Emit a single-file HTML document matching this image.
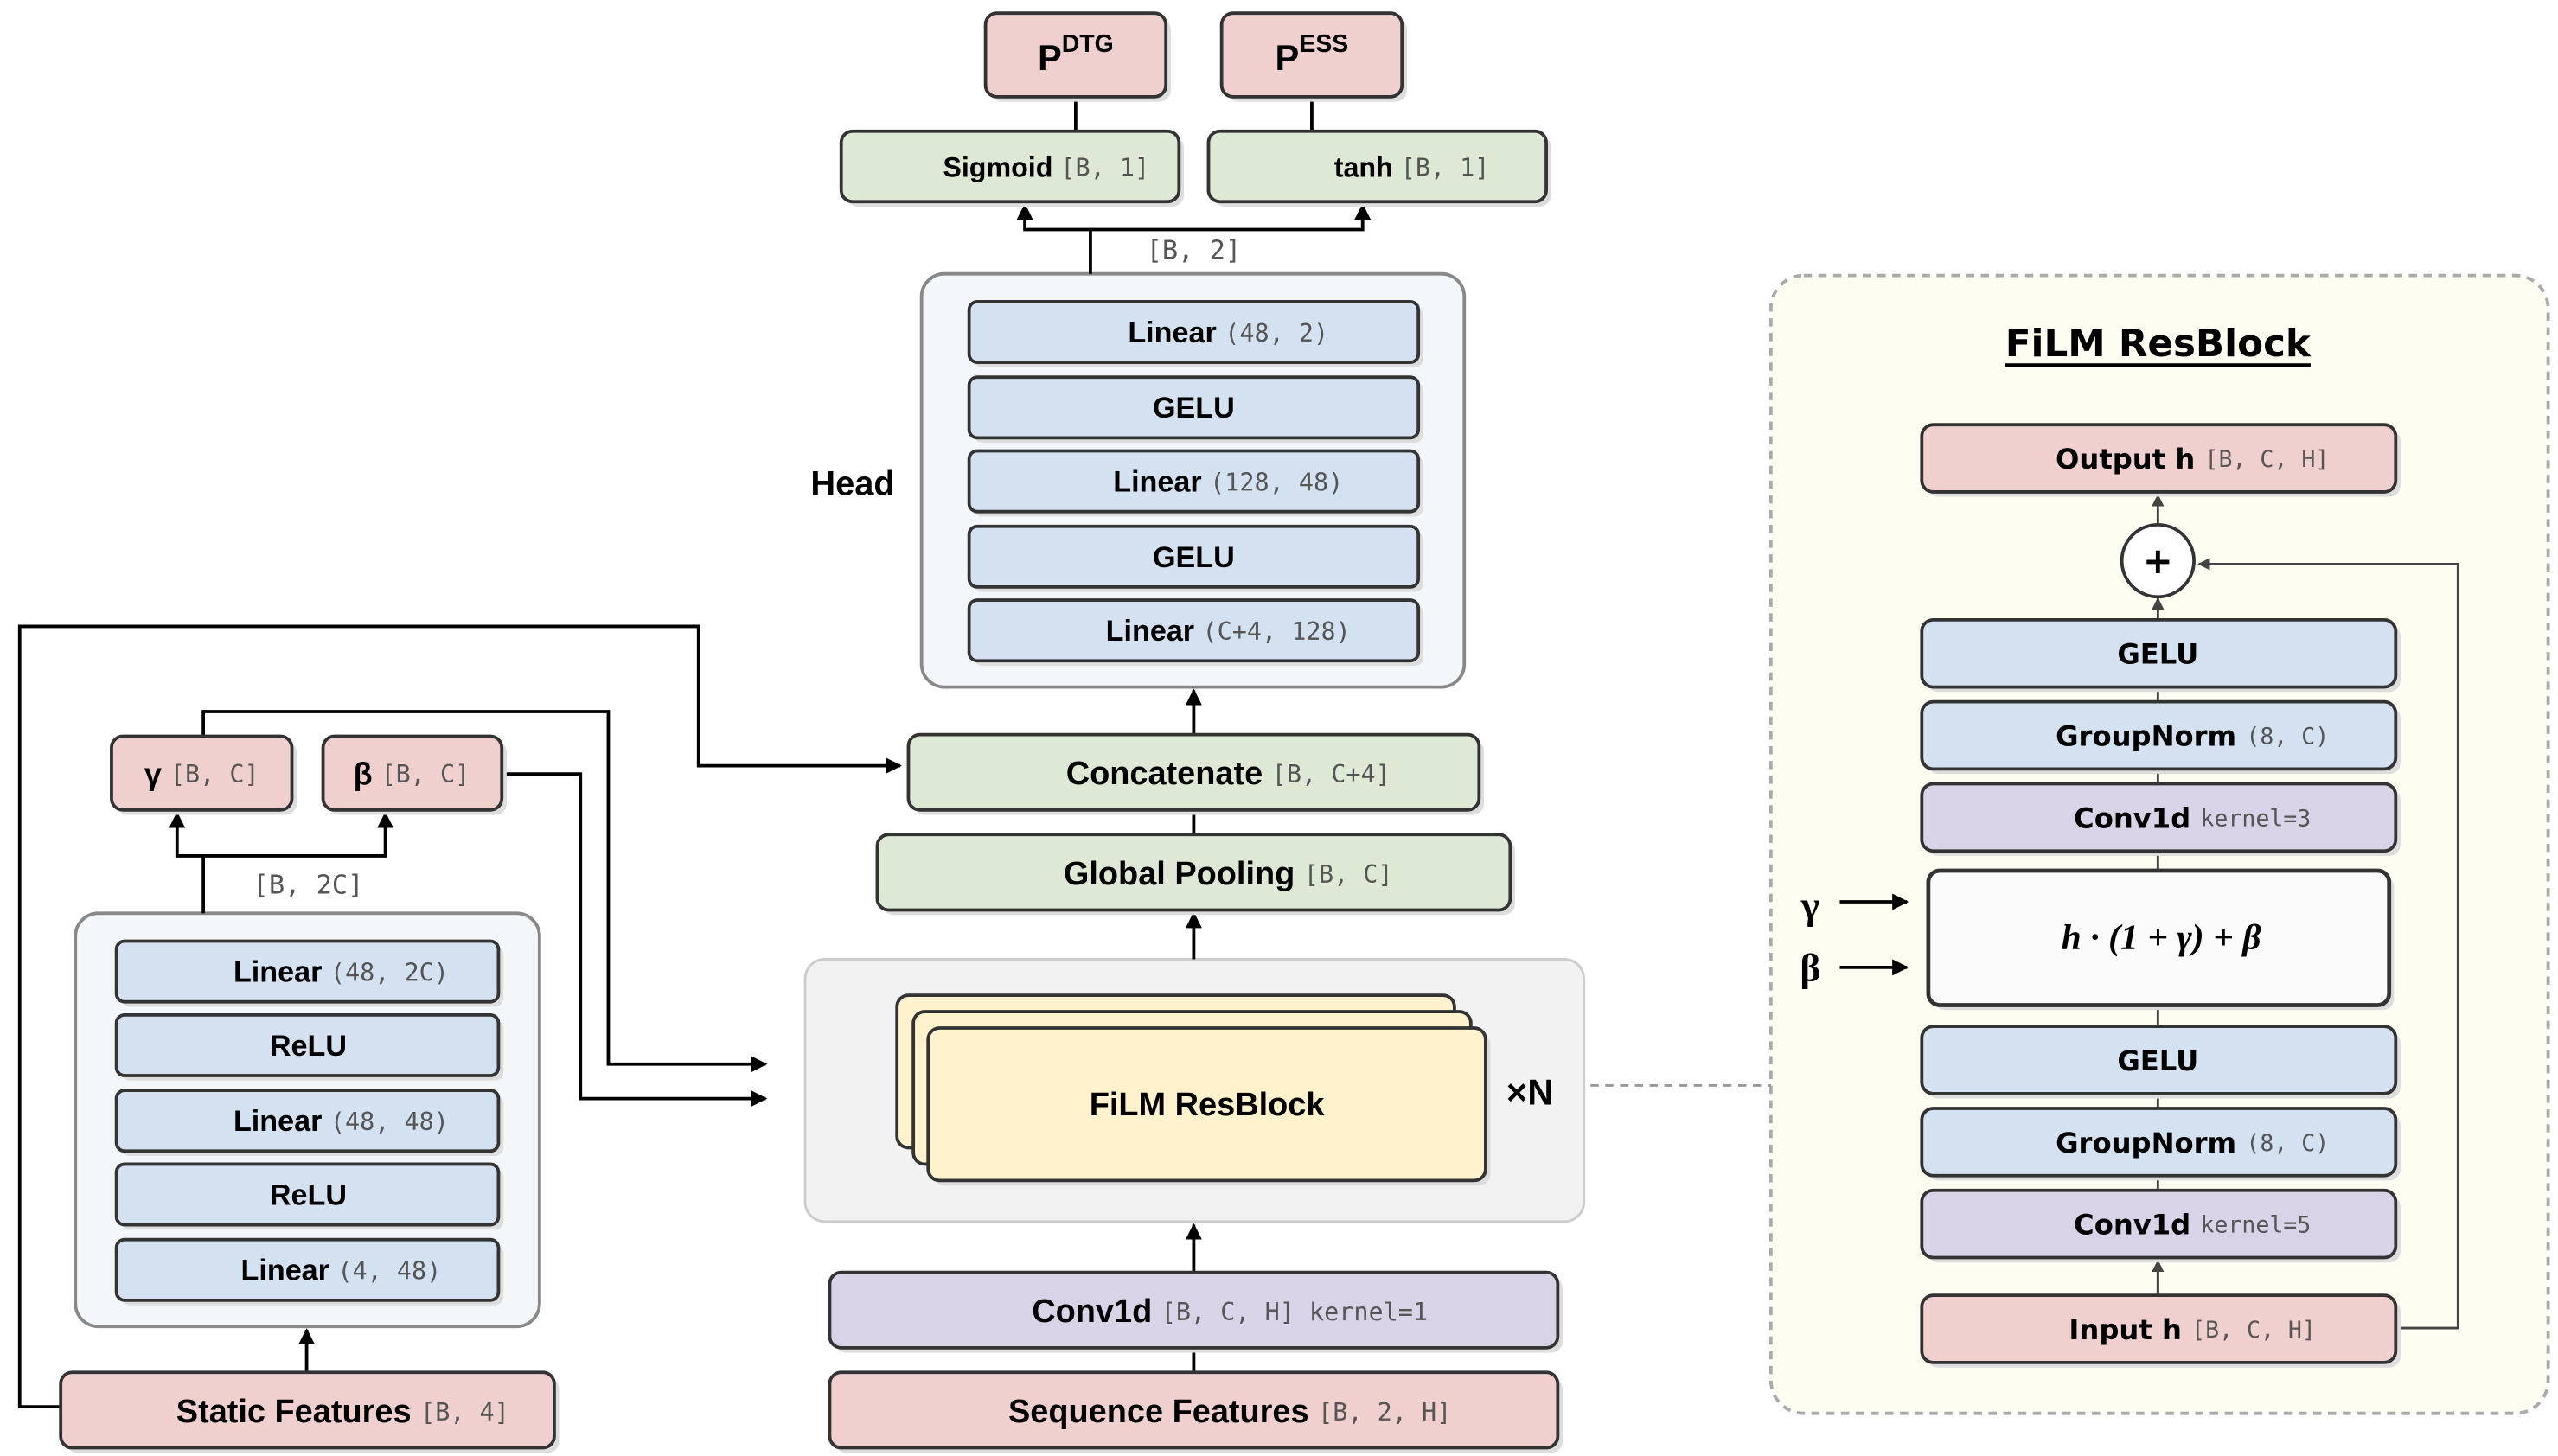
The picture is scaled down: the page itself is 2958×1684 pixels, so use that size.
<!DOCTYPE html>
<html><head><meta charset="utf-8"><style>
html,body{margin:0;padding:0;background:#fff;}
svg{display:block;}
.b{font-family:"Liberation Sans",sans-serif;font-weight:bold;fill:#000;}
.d{font-family:"DejaVu Sans",sans-serif;font-weight:bold;fill:#000;}
.m{font-family:"DejaVu Sans Mono","Liberation Mono",monospace;font-weight:normal;fill:#555;}
</style></head><body>
<svg width="2958" height="1684" viewBox="0 0 1560 888" preserveAspectRatio="none" xmlns="http://www.w3.org/2000/svg">
<defs>
<marker id="ah" viewBox="0 0 10 10" refX="9" refY="5" markerWidth="5" markerHeight="5" orient="auto"><path d="M0,0 L10,5 L0,10 z" fill="#000"/></marker>
<marker id="ag" viewBox="0 0 10 10" refX="9" refY="5" markerWidth="5" markerHeight="5" orient="auto"><path d="M0,0 L10,5 L0,10 z" fill="#444"/></marker>
</defs>

<!-- FiLM panel -->
<rect x="1080" y="168" width="474" height="694" rx="20" fill="#fefdf2" stroke="#aaa" stroke-width="2" stroke-dasharray="5,4"/>
<line x1="970" y1="662" x2="1080" y2="662" stroke="#999" stroke-width="1.5" stroke-dasharray="5,4"/>

<!-- containers -->
<rect x="562" y="167" width="331" height="252" rx="14" fill="#f4f7fa" stroke="#888" stroke-width="2"/>
<rect x="46" y="557" width="283" height="252" rx="14" fill="#f4f7fa" stroke="#888" stroke-width="2"/>
<rect x="491" y="585" width="475" height="160" rx="12" fill="#f2f2f2" stroke="#ccc" stroke-width="1.5"/>

<!-- connectors -->
<g stroke="#000" stroke-width="2" fill="none">
<line x1="656" y1="59" x2="656" y2="80"/>
<line x1="800" y1="59" x2="800" y2="80"/>
<polyline points="665,167 665,140 625,140 625,125" marker-end="url(#ah)"/>
<polyline points="665,140 831,140 831,125" marker-end="url(#ah)"/>
<line x1="728" y1="448" x2="728" y2="421" marker-end="url(#ah)"/>
<line x1="728" y1="494" x2="728" y2="509"/>
<line x1="728" y1="585" x2="728" y2="557" marker-end="url(#ah)"/>
<line x1="728" y1="776" x2="728" y2="747" marker-end="url(#ah)"/>
<line x1="728" y1="822" x2="728" y2="837"/>
<line x1="187" y1="837" x2="187" y2="811" marker-end="url(#ah)"/>
<polyline points="124,557 124,522 108,522 108,496" marker-end="url(#ah)"/>
<polyline points="124,522 235,522 235,496" marker-end="url(#ah)"/>
<polyline points="124,449 124,434 371,434 371,649 467,649" marker-end="url(#ah)"/>
<polyline points="306,472 354,472 354,670 467,670" marker-end="url(#ah)"/>
<polyline points="37,858 12,858 12,382 426,382 426,467 549,467" marker-end="url(#ah)"/>
<line x1="1122" y1="550" x2="1163" y2="550" marker-end="url(#ah)"/>
<line x1="1122" y1="590" x2="1163" y2="590" marker-end="url(#ah)"/>
</g>
<g stroke="#444" stroke-width="1.5" fill="none">
<line x1="1316" y1="419" x2="1316" y2="790"/>
<line x1="1316" y1="320" x2="1316" y2="302" marker-end="url(#ag)"/>
<line x1="1316" y1="378" x2="1316" y2="365" marker-end="url(#ag)"/>
<line x1="1316" y1="790" x2="1316" y2="769" marker-end="url(#ag)"/>
<polyline points="1461,810 1499,810 1499,344 1341,344" marker-end="url(#ag)"/>
</g>

<!-- boxes with shadow -->
<g stroke="#333" stroke-width="2">
<!-- shadows -->
<g fill="#ddd" stroke="none">
<rect x="604" y="11" width="110" height="51" rx="7"/><rect x="748" y="11" width="110" height="51" rx="7"/>
<rect x="516" y="83" width="206" height="43" rx="7"/><rect x="740" y="83" width="206" height="43" rx="7"/>
<rect x="594" y="187" width="274" height="37" rx="5"/><rect x="594" y="233" width="274" height="37" rx="5"/>
<rect x="594" y="278" width="274" height="37" rx="5"/><rect x="594" y="324" width="274" height="37" rx="5"/>
<rect x="594" y="369" width="274" height="37" rx="5"/>
<rect x="557" y="451" width="348" height="46" rx="7"/><rect x="538" y="512" width="386" height="46" rx="7"/>
<rect x="509" y="779" width="444" height="46" rx="7"/><rect x="509" y="840" width="444" height="46" rx="7"/>
<rect x="40" y="840" width="301" height="46" rx="7"/>
<rect x="71" y="452" width="110" height="45" rx="7"/><rect x="200" y="452" width="109" height="45" rx="7"/>
<rect x="74" y="577" width="233" height="37" rx="5"/><rect x="74" y="622" width="233" height="37" rx="5"/>
<rect x="74" y="668" width="233" height="37" rx="5"/><rect x="74" y="713" width="233" height="37" rx="5"/>
<rect x="74" y="759" width="233" height="37" rx="5"/>
<rect x="569" y="630" width="340" height="93" rx="7"/>
<rect x="1175" y="262" width="289" height="41" rx="7"/><rect x="1175" y="381" width="289" height="41" rx="7"/>
<rect x="1175" y="431" width="289" height="41" rx="7"/><rect x="1175" y="481" width="289" height="41" rx="7"/>
<rect x="1179" y="534" width="281" height="82" rx="7"/>
<rect x="1175" y="629" width="289" height="41" rx="7"/><rect x="1175" y="679" width="289" height="41" rx="7"/>
<rect x="1175" y="729" width="289" height="41" rx="7"/><rect x="1175" y="793" width="289" height="41" rx="7"/>
</g>
<g fill="#f0cfcf">
<rect x="601" y="8" width="110" height="51" rx="7"/><rect x="745" y="8" width="110" height="51" rx="7"/>
<rect x="506" y="837" width="444" height="46" rx="7"/>
<rect x="37" y="837" width="301" height="46" rx="7"/>
<rect x="68" y="449" width="110" height="45" rx="7"/><rect x="197" y="449" width="109" height="45" rx="7"/>
<rect x="1172" y="259" width="289" height="41" rx="7"/><rect x="1172" y="790" width="289" height="41" rx="7"/>
</g>
<g fill="#dde8d5">
<rect x="513" y="80" width="206" height="43" rx="7"/><rect x="737" y="80" width="206" height="43" rx="7"/>
<rect x="554" y="448" width="348" height="46" rx="7"/><rect x="535" y="509" width="386" height="46" rx="7"/>
</g>
<g fill="#d3e1f0">
<rect x="591" y="184" width="274" height="37" rx="5"/><rect x="591" y="230" width="274" height="37" rx="5"/>
<rect x="591" y="275" width="274" height="37" rx="5"/><rect x="591" y="321" width="274" height="37" rx="5"/>
<rect x="591" y="366" width="274" height="37" rx="5"/>
<rect x="71" y="574" width="233" height="37" rx="5"/><rect x="71" y="619" width="233" height="37" rx="5"/>
<rect x="71" y="665" width="233" height="37" rx="5"/><rect x="71" y="710" width="233" height="37" rx="5"/>
<rect x="71" y="756" width="233" height="37" rx="5"/>
<rect x="1172" y="378" width="289" height="41" rx="7"/><rect x="1172" y="428" width="289" height="41" rx="7"/>
<rect x="1172" y="626" width="289" height="41" rx="7"/><rect x="1172" y="676" width="289" height="41" rx="7"/>
</g>
<g fill="#d9d3e8">
<rect x="506" y="776" width="444" height="46" rx="7"/>
<rect x="1172" y="478" width="289" height="41" rx="7"/><rect x="1172" y="726" width="289" height="41" rx="7"/>
</g>
<g fill="#fff2cc">
<rect x="547" y="607" width="340" height="93" rx="7"/>
<rect x="557" y="617" width="340" height="93" rx="7"/>
<rect x="566" y="627" width="340" height="93" rx="7"/>
</g>
<rect x="1176" y="531" width="281" height="82" rx="7" fill="#fbfbfb" stroke-width="2.5"/>
<circle cx="1316" cy="342" r="22" fill="#fff"/>
</g>

<!-- text -->
<g text-anchor="middle" dominant-baseline="central">
<text x="656" y="35" class="b" font-size="22">P<tspan font-size="15" dy="-8">DTG</tspan></text>
<text x="800" y="35" class="b" font-size="22">P<tspan font-size="15" dy="-8">ESS</tspan></text>
<text x="638" y="102" class="b" font-size="17">Sigmoid <tspan class="m" font-size="15">[B, 1]</tspan></text>
<text x="861" y="102" class="b" font-size="17">tanh <tspan class="m" font-size="15">[B, 1]</tspan></text>
<text x="728" y="153" class="m" font-size="16">[B, 2]</text>
<text x="520" y="295" class="b" font-size="21">Head</text>
<text x="749" y="203" class="b" font-size="18">Linear <tspan class="m" font-size="15">(48, 2)</tspan></text>
<text x="728" y="249" class="b" font-size="18">GELU</text>
<text x="749" y="294" class="b" font-size="18">Linear <tspan class="m" font-size="15">(128, 48)</tspan></text>
<text x="728" y="340" class="b" font-size="18">GELU</text>
<text x="749" y="385" class="b" font-size="18">Linear <tspan class="m" font-size="15">(C+4, 128)</tspan></text>
<text x="749" y="472" class="b" font-size="20">Concatenate <tspan class="m" font-size="15">[B, C+4]</tspan></text>
<text x="749" y="533" class="b" font-size="20">Global Pooling <tspan class="m" font-size="15">[B, C]</tspan></text>
<text x="736" y="674" class="b" font-size="20">FiLM ResBlock</text>
<text x="933" y="666" class="b" font-size="22">×N</text>
<text x="750" y="800" class="b" font-size="20">Conv1d <tspan class="m" font-size="15">[B, C, H] kernel=1</tspan></text>
<text x="750" y="861" class="b" font-size="20">Sequence Features <tspan class="m" font-size="15">[B, 2, H]</tspan></text>
<text x="209" y="861" class="b" font-size="20">Static Features <tspan class="m" font-size="15">[B, 4]</tspan></text>
<text x="123" y="472" class="b" font-size="19">γ <tspan class="m" font-size="15">[B, C]</tspan></text>
<text x="251" y="472" class="b" font-size="19">β <tspan class="m" font-size="15">[B, C]</tspan></text>
<text x="188" y="540" class="m" font-size="16">[B, 2C]</text>
<text x="208" y="593" class="b" font-size="18">Linear <tspan class="m" font-size="15">(48, 2C)</tspan></text>
<text x="188" y="638" class="b" font-size="18">ReLU</text>
<text x="208" y="684" class="b" font-size="18">Linear <tspan class="m" font-size="15">(48, 48)</tspan></text>
<text x="188" y="729" class="b" font-size="18">ReLU</text>
<text x="208" y="775" class="b" font-size="18">Linear <tspan class="m" font-size="15">(4, 48)</tspan></text>

<text x="1316" y="210" class="d" font-size="23" text-decoration="underline" fill="#333">FiLM ResBlock</text>
<text x="1337" y="280" class="d" font-size="17">Output h <tspan class="m" font-size="14">[B, C, H]</tspan></text>
<text x="1316" y="342" class="d" font-size="22">+</text>
<text x="1316" y="399" class="d" font-size="17">GELU</text>
<text x="1337" y="449" class="d" font-size="17">GroupNorm <tspan class="m" font-size="14">(8, C)</tspan></text>
<text x="1337" y="499" class="d" font-size="17">Conv1d <tspan class="m" font-size="14">kernel=3</tspan></text>
<text x="1318" y="572" font-family="Liberation Serif,serif" font-style="italic" font-weight="bold" font-size="22">h · (1 + γ) + β</text>
<text x="1104" y="552" font-family="Liberation Serif,serif" font-weight="bold" font-size="24">γ</text>
<text x="1104" y="590" font-family="Liberation Serif,serif" font-weight="bold" font-size="24">β</text>
<text x="1316" y="647" class="d" font-size="17">GELU</text>
<text x="1337" y="697" class="d" font-size="17">GroupNorm <tspan class="m" font-size="14">(8, C)</tspan></text>
<text x="1337" y="747" class="d" font-size="17">Conv1d <tspan class="m" font-size="14">kernel=5</tspan></text>
<text x="1337" y="811" class="d" font-size="17">Input h <tspan class="m" font-size="14">[B, C, H]</tspan></text>
</g>
</svg>
</body></html>
